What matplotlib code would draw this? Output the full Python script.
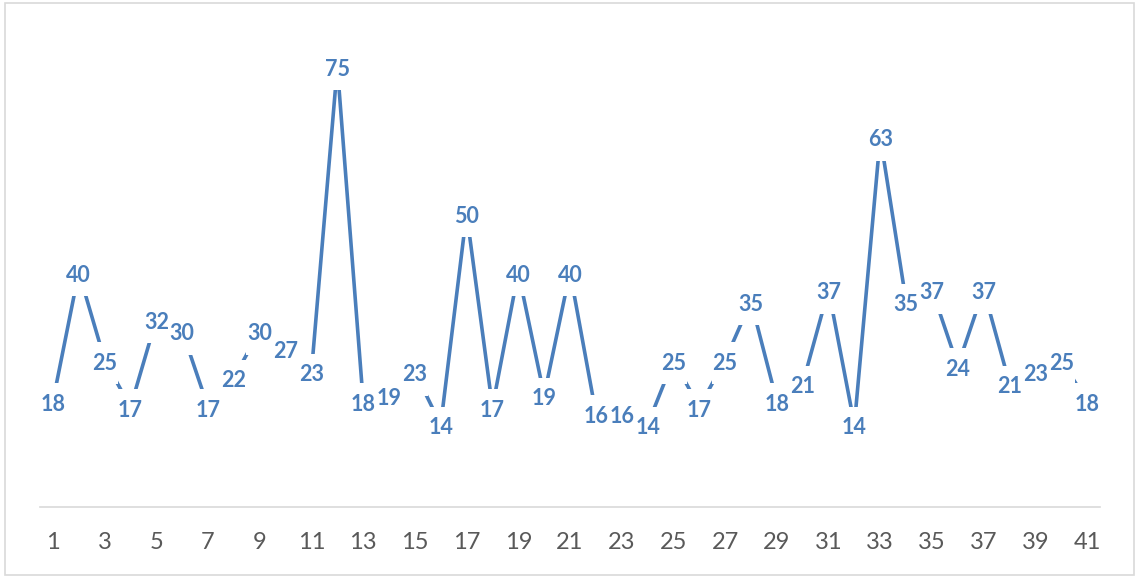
import matplotlib
matplotlib.use('Agg')
import matplotlib.pyplot as plt
from matplotlib.path import Path
from matplotlib.patches import Rectangle

# chart data
days = list(range(1, 42))
values = [18, 40, 25, 17, 32, 30, 17, 22, 30, 27,
          23, 75, 18, 19, 23, 14, 50, 17, 40, 19,
          40, 16, 16, 14, 25, 17, 25, 35, 18, 21,
          37, 14, 63, 35, 37, 24, 37, 21, 23, 25,
          18]
tick_labels = [str(d) for d in range(1, 42, 2)]

blue = '#4a7ebb'
grey = '#595959'


def tall_box(x0, y0, width, height, mutation_size):
    ''' white label box, narrow at the sides and tall above / below '''
    px = 0.05 * mutation_size
    py = 0.48 * mutation_size
    x0, x1 = x0 - px, x0 + width + px
    y0, y1 = y0 - py, y0 + height + py
    return Path([(x0, y0), (x1, y0), (x1, y1), (x0, y1), (x0, y0)], closed=True)


fig = plt.figure(figsize=(11.36, 5.76), dpi=100)
ax = fig.add_axes([40 / 1136, 69 / 576, 1060 / 1136, 470 / 576])

ax.plot(days, values, color=blue, linewidth=2.6, solid_capstyle='butt', zorder=2)

for d, v in zip(days, values):
    ax.annotate(str(v), (d, v), xytext=(0, -2.2), textcoords='offset points',
                ha='center', va='center', color=blue,
                fontsize=15.5, fontweight='bold', family=['Lato', 'DejaVu Sans'],
                bbox=dict(boxstyle=tall_box, facecolor='white', edgecolor='none'),
                zorder=3)

ax.set_xlim(0.5, 41.5)
ax.set_ylim(0, 80)
ax.set_xticks(range(1, 42, 2))
ax.set_xticklabels(tick_labels, family=['Lato', 'DejaVu Sans'], fontsize=17, color=grey)
ax.tick_params(axis='x', length=0, pad=18)
ax.set_yticks([])

for side in ['left', 'right', 'top']:
    ax.spines[side].set_visible(False)
ax.spines['bottom'].set_color('#d9d9d9')
ax.spines['bottom'].set_linewidth(1.2)

# light frame round the whole chart
fig.patches.append(Rectangle((5 / 1136, 1 / 576), 1129 / 1136, 572 / 576,
                             transform=fig.transFigure, fill=False,
                             edgecolor='#d9d9d9', linewidth=1.2))

fig.savefig('out.png', dpi=100)
